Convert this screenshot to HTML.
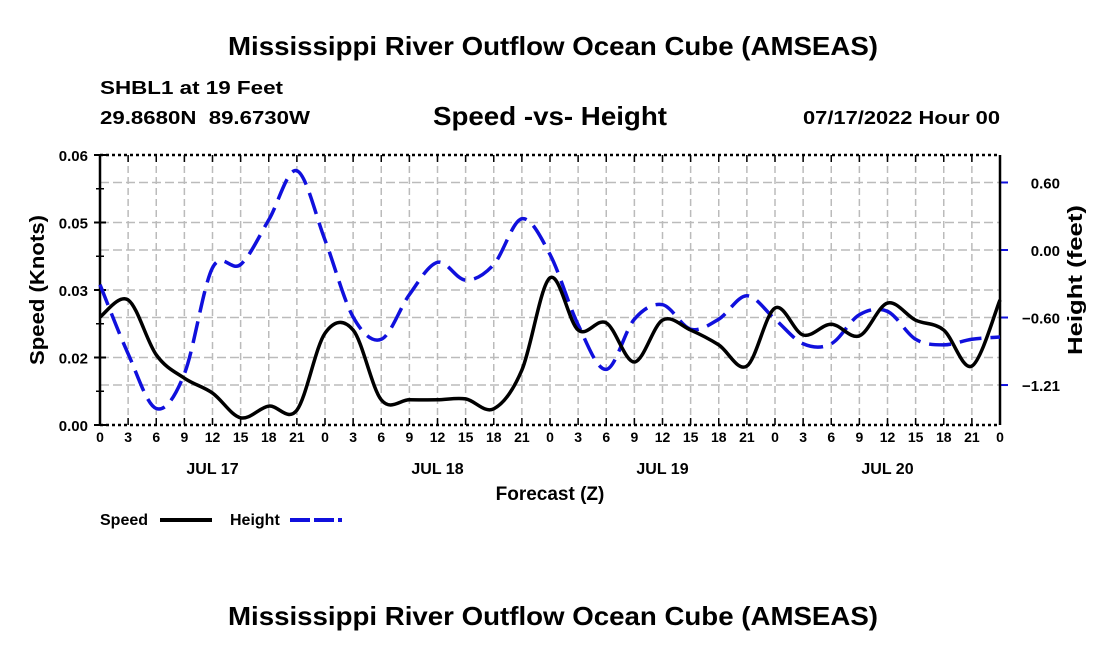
<!DOCTYPE html>
<html><head><meta charset="utf-8"><style>
body{margin:0;background:#fff;}
svg text{font-family:"Liberation Sans",Arial,sans-serif;font-weight:bold;fill:#000;}
</style></head><body>
<svg width="1100" height="650">
<text x="228" y="55" font-size="26" textLength="650" lengthAdjust="spacingAndGlyphs">Mississippi River Outflow Ocean Cube (AMSEAS)</text>
<text x="100" y="94" font-size="18" textLength="183" lengthAdjust="spacingAndGlyphs">SHBL1 at 19 Feet</text>
<text x="100" y="124" font-size="18" textLength="210" lengthAdjust="spacingAndGlyphs" xml:space="preserve">29.8680N  89.6730W</text>
<text x="433" y="125" font-size="26" textLength="234" lengthAdjust="spacingAndGlyphs">Speed -vs- Height</text>
<text x="803" y="124" font-size="18" textLength="197" lengthAdjust="spacingAndGlyphs">07/17/2022 Hour 00</text>
<g id="grid"></g>
<g id="axes"></g>
<g id="series"></g>
<text x="44" y="290" font-size="20" text-anchor="middle" textLength="150" lengthAdjust="spacingAndGlyphs" transform="rotate(-90 44 290)">Speed (Knots)</text>
<text x="1082" y="280" font-size="20" text-anchor="middle" textLength="150" lengthAdjust="spacingAndGlyphs" transform="rotate(-90 1082 280)">Height (feet)</text>
<text x="550" y="500" font-size="19" text-anchor="middle">Forecast (Z)</text>
<g>
<text x="100" y="525" font-size="16">Speed</text>
<line x1="160" y1="520" x2="212" y2="520" stroke="#000" stroke-width="4"/>
<text x="230" y="525" font-size="16">Height</text>
<line x1="290" y1="520" x2="342" y2="520" stroke="#1010dd" stroke-width="4" stroke-dasharray="20,4"/>
</g>
<text x="228" y="625" font-size="26" textLength="650" lengthAdjust="spacingAndGlyphs">Mississippi River Outflow Ocean Cube (AMSEAS)</text>
</svg>
<script>
const hours=[0,3,6,9,12,15,18,21,24,27,30,33,36,39,42,45,48,51,54,57,60,63,66,69,72,75,78,81,84,87,90,93,96];
const speedValues=[0.024,0.0278,0.0156,0.0104,0.0071,0.0016,0.0042,0.0033,0.0204,0.0211,0.0056,0.0056,0.0056,0.0058,0.0036,0.0122,0.0327,0.0211,0.0227,0.014,0.0233,0.0211,0.0178,0.0131,0.026,0.02,0.0224,0.0198,0.0271,0.0233,0.0211,0.0131,0.0278];
const heightValues=[-0.31,-0.93,-1.42,-1.11,-0.16,-0.13,0.27,0.71,0.09,-0.60,-0.80,-0.40,-0.11,-0.27,-0.13,0.28,-0.04,-0.67,-1.07,-0.62,-0.49,-0.71,-0.62,-0.41,-0.62,-0.84,-0.84,-0.58,-0.55,-0.80,-0.85,-0.80,-0.78];
const speedTicks=[0,0.015,0.03,0.045,0.06];
const speedTickLabels=["0.00","0.02","0.03","0.05","0.06"];
const heightTicks=[-1.21,-0.605,0,0.605];
const heightTickLabels=["\u22121.21","\u22120.60","0.00","0.60"];
const dayLabels=["JUL 17","JUL 18","JUL 19","JUL 20"];
const dayCenters=[12,36,60,84];

const NS="http://www.w3.org/2000/svg";
const X0=100,X1=1000,Y0=155,Y1=425;
const xs=h=>X0+(h/96)*(X1-X0);
const ys=v=>Y1-(v/0.06)*(Y1-Y0);
const yh=f=>250-f*111.6;
function mk(tag,attrs,parent){const e=document.createElementNS(NS,tag);for(const k in attrs)e.setAttribute(k,attrs[k]);parent.appendChild(e);return e;}
const grid=document.getElementById('grid'),axes=document.getElementById('axes'),series=document.getElementById('series');
for(let h=0;h<=96;h+=3){
  const x=xs(h);
  if(h>0&&h<96){const l=mk('line',{x1:x,y1:Y0,x2:x,y2:Y1,stroke:'#bbb','stroke-width':1.5,'stroke-dasharray':'7,4'},grid);
  
  }
  const t=mk('line',{x1:x,y1:Y1,x2:x,y2:Y1-7,stroke:'#000','stroke-width':1.5},axes);
  
  
  const t2=mk('line',{x1:x,y1:Y0,x2:x,y2:Y0+7,stroke:'#000','stroke-width':1.5},axes);
  
  
  const tx=mk('text',{x:x,y:442,'font-size':14,'text-anchor':'middle'},axes);
  tx.textContent=String(h%24);
  
  
}
dayLabels.forEach((d,i)=>{const t=mk('text',{x:xs(dayCenters[i]),y:474,'font-size':16,'text-anchor':'middle'},axes);t.textContent=d;

});
speedTicks.forEach((v,i)=>{const y=ys(v);
 if(i>0&&i<speedTicks.length-1){const l=mk('line',{x1:X0,y1:y,x2:X1,y2:y,stroke:'#bbb','stroke-width':1.5,'stroke-dasharray':'9,4'},grid);
 
 }
 const t=mk('line',{x1:X0-6,y1:y,x2:X0+6,y2:y,stroke:'#000','stroke-width':2},axes);
 
 
 const tx=mk('text',{x:X0-12,y:y+6,'font-size':15,'text-anchor':'end'},axes);tx.textContent=speedTickLabels[i];
 
 });
heightTicks.forEach((v,i)=>{const y=yh(v);
 const l=mk('line',{x1:X0,y1:y,x2:X1,y2:y,stroke:'#bbb','stroke-width':1.5,'stroke-dasharray':'9,4'},grid);
 
 
 const t=mk('line',{x1:X1,y1:y,x2:X1+8,y2:y,stroke:'#1010dd','stroke-width':2},axes);
 
 
 const tx=mk('text',{x:1060,y:y+6,'font-size':15,'text-anchor':'end'},axes);tx.textContent=heightTickLabels[i];
 
 });
for(let v=0.0075;v<0.06;v+=0.015){const t=mk('line',{x1:X0-4,y1:ys(v),x2:X0+4,y2:ys(v),stroke:'#000','stroke-width':1.5},axes);

}
const fr=[['x-axis-top',X0,Y0,X1,Y0,'3,3'],['x-axis-bottom',X0,Y1,X1,Y1,'3,3'],['y-axis-left',X0,Y0,X0,Y1,''],['y-axis-right',X1,Y0,X1,Y1,'']];
fr.forEach(f=>{const l=mk('line',{x1:f[1],y1:f[2],x2:f[3],y2:f[4],stroke:'#000','stroke-width':2.5},axes);
 if(f[5])l.setAttribute('stroke-dasharray',f[5]);
 
 });
function smooth(pts){let d='M'+pts[0][0]+','+pts[0][1];
 for(let i=0;i<pts.length-1;i++){const p0=pts[Math.max(0,i-1)],p1=pts[i],p2=pts[i+1],p3=pts[Math.min(pts.length-1,i+2)];
  const c1=[p1[0]+(p2[0]-p0[0])/6,p1[1]+(p2[1]-p0[1])/6],c2=[p2[0]-(p3[0]-p1[0])/6,p2[1]-(p3[1]-p1[1])/6];
  d+=' C'+c1+' '+c2+' '+p2;}return d;}
const hp=mk('path',{d:smooth(hours.map((h,i)=>[xs(h),yh(heightValues[i])])),fill:'none',stroke:'#1010dd','stroke-width':3.5,'stroke-dasharray':'22,9'},series);


const sp=mk('path',{d:smooth(hours.map((h,i)=>[xs(h),ys(speedValues[i])])),fill:'none',stroke:'#000','stroke-width':3.5},series);


</script>
</body></html>
